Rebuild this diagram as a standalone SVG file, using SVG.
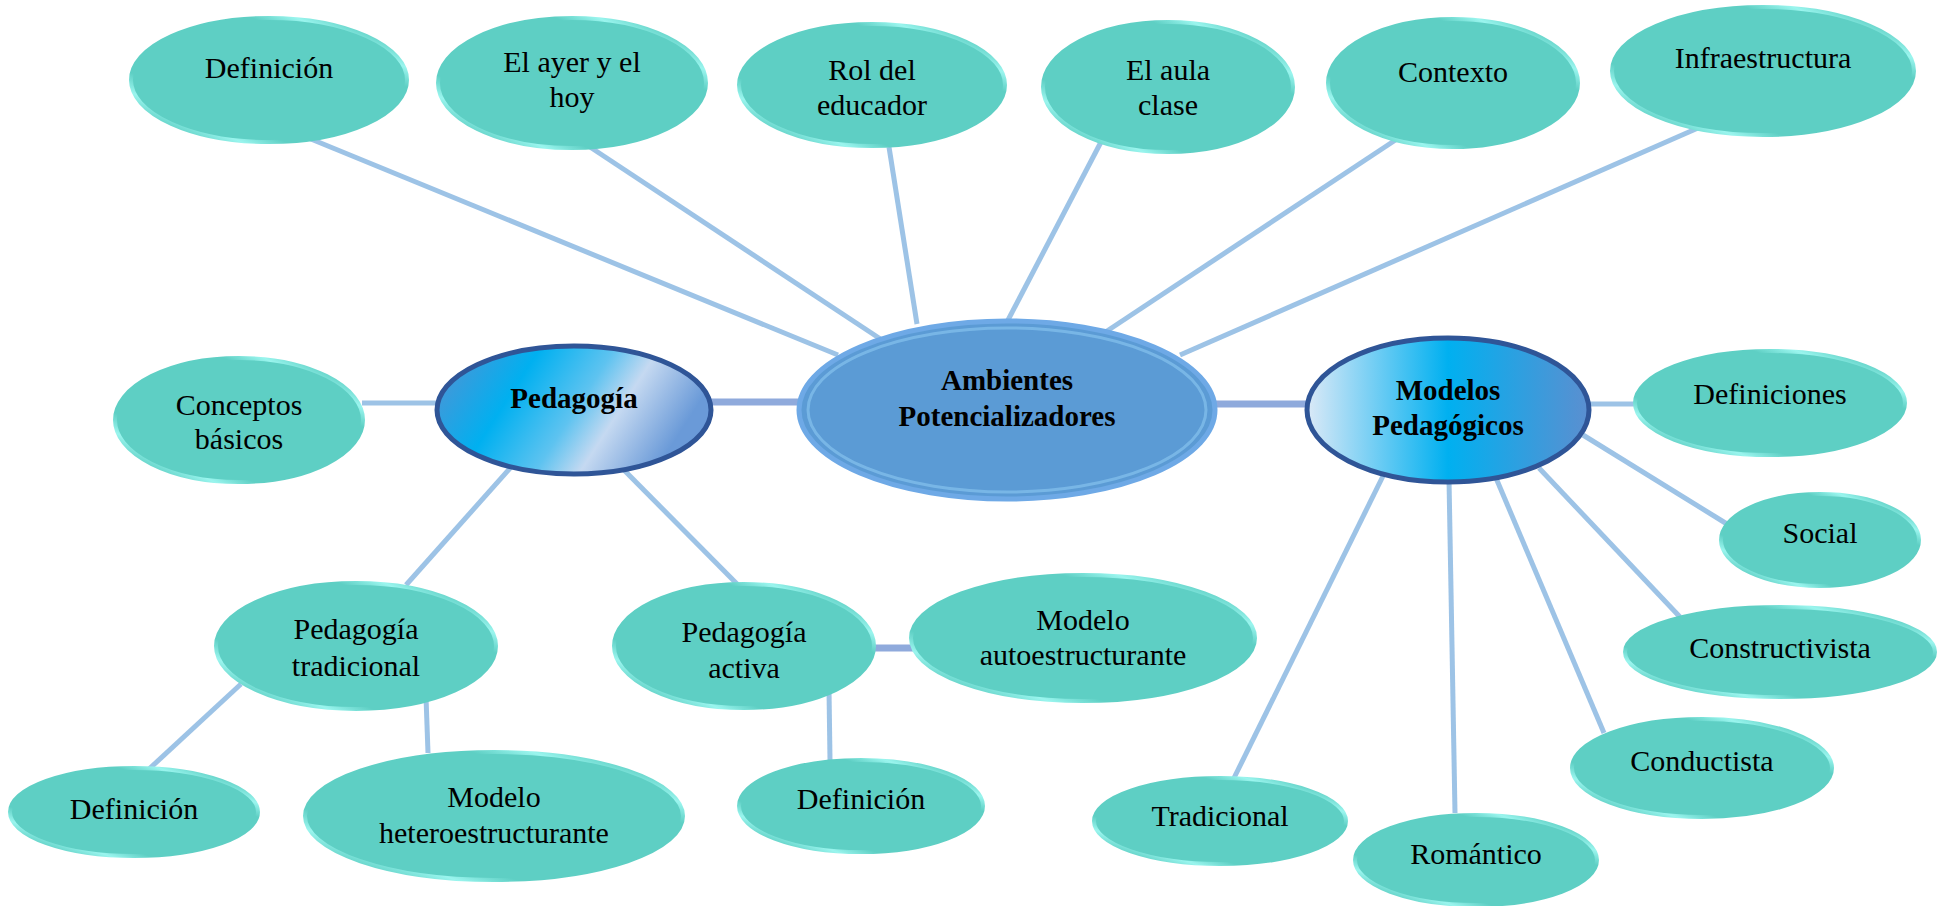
<svg xmlns="http://www.w3.org/2000/svg" width="1937" height="906" viewBox="0 0 1937 906">
<style>
.c{stroke:#9dc3e6;stroke-width:5;fill:none;stroke-linecap:butt}
.m{stroke:#8faadc;stroke-width:7;fill:none}
.leaf{fill:#5ecfc4;stroke:url(#tealEdge);stroke-width:4}
.t{font-family:"Liberation Serif","Times New Roman",serif;font-size:30px;fill:#000;text-anchor:middle}
.b{font-family:"Liberation Serif","Times New Roman",serif;font-size:29px;font-weight:bold;fill:#000;text-anchor:middle}
</style>
<defs>
<linearGradient id="tealEdge" x1="0" y1="1" x2="1" y2="0">
<stop offset="0" stop-color="#5ecfc4"/>
<stop offset="0.12" stop-color="#5ecfc4"/>
<stop offset="0.2" stop-color="#9af5ee"/>
<stop offset="0.28" stop-color="#5ecfc4"/>
<stop offset="0.72" stop-color="#5ecfc4"/>
<stop offset="0.8" stop-color="#9af5ee"/>
<stop offset="0.88" stop-color="#5ecfc4"/>
<stop offset="1" stop-color="#5ecfc4"/>
</linearGradient>
<linearGradient id="pedFill" x1="0" y1="0" x2="1" y2="0.3">
<stop offset="0" stop-color="#5b8fd0"/>
<stop offset="0.35" stop-color="#00b0f0"/>
<stop offset="0.6" stop-color="#5ec3f0"/>
<stop offset="0.75" stop-color="#c5d9f1"/>
<stop offset="1" stop-color="#6a9ad8"/>
</linearGradient>
<linearGradient id="modFill" x1="0" y1="0" x2="1" y2="0">
<stop offset="0" stop-color="#dbe9f7"/>
<stop offset="0.5" stop-color="#00b0f0"/>
<stop offset="1" stop-color="#5b8fd0"/>
</linearGradient>
</defs>

<g id="connectors">
<line class="c" x1="306" y1="137" x2="838" y2="355"/>
<line class="c" x1="587" y1="145" x2="882" y2="340"/>
<line class="c" x1="889" y1="147" x2="917" y2="324"/>
<line class="c" x1="1101" y1="142" x2="1007" y2="322"/>
<line class="c" x1="1400" y1="137" x2="1104" y2="333"/>
<line class="c" x1="1698" y1="128" x2="1180" y2="355"/>
<line class="c" x1="362" y1="403" x2="438" y2="403"/>
<line class="m" x1="711" y1="402" x2="800" y2="402"/>
<line class="m" x1="1214" y1="404" x2="1307" y2="404"/>
<line class="c" x1="512" y1="466" x2="406" y2="585"/>
<line class="c" x1="621" y1="467" x2="742" y2="589"/>
<line class="c" x1="241" y1="684" x2="148" y2="770"/>
<line class="c" x1="426" y1="697" x2="428" y2="753"/>
<line class="m" x1="872" y1="648" x2="913" y2="648"/>
<line class="c" x1="829" y1="690" x2="830" y2="760"/>
<line class="c" x1="1588" y1="404" x2="1638" y2="404"/>
<line class="c" x1="1583" y1="435" x2="1727" y2="524"/>
<line class="c" x1="1539" y1="468" x2="1680" y2="617"/>
<line class="c" x1="1496" y1="478" x2="1604" y2="733"/>
<line class="c" x1="1449" y1="479" x2="1455" y2="813"/>
<line class="c" x1="1384" y1="474" x2="1234" y2="778"/>
</g>

<g id="n-definicion-top"><ellipse class="leaf" cx="269" cy="80" rx="138" ry="62"/><text class="t" x="269" y="78">Definición</text></g>
<g id="n-ayer"><ellipse class="leaf" cx="572" cy="83" rx="134" ry="65"/><text class="t" x="572" y="72">El ayer y el</text><text class="t" x="572" y="107">hoy</text></g>
<g id="n-rol"><ellipse class="leaf" cx="872" cy="85" rx="133" ry="61"/><text class="t" x="872" y="80">Rol del</text><text class="t" x="872" y="115">educador</text></g>
<g id="n-aula"><ellipse class="leaf" cx="1168" cy="87" rx="125" ry="65"/><text class="t" x="1168" y="80">El aula</text><text class="t" x="1168" y="115">clase</text></g>
<g id="n-contexto"><ellipse class="leaf" cx="1453" cy="83" rx="125" ry="64"/><text class="t" x="1453" y="82">Contexto</text></g>
<g id="n-infra"><ellipse class="leaf" cx="1763" cy="71" rx="151" ry="64"/><text class="t" x="1763" y="68">Infraestructura</text></g>

<g id="n-conceptos"><ellipse class="leaf" cx="239" cy="420" rx="124" ry="62"/><text class="t" x="239" y="415">Conceptos</text><text class="t" x="239" y="449">básicos</text></g>

<g id="n-pedagogia"><ellipse cx="574" cy="410" rx="137" ry="64" fill="url(#pedFill)" stroke="#2f5597" stroke-width="5"/><text class="b" x="574" y="408">Pedagogía</text></g>

<g id="n-ambientes"><ellipse cx="1007" cy="410" rx="208" ry="89" fill="#5b9bd5" stroke="#6ea9e6" stroke-width="5"/><ellipse cx="1007" cy="410" rx="199" ry="82" fill="none" stroke="#8cc8f2" stroke-width="3" opacity="0.6"/><text class="b" x="1007" y="390">Ambientes</text><text class="b" x="1007" y="426">Potencializadores</text></g>

<g id="n-modelos"><ellipse cx="1448" cy="410" rx="141" ry="72" fill="url(#modFill)" stroke="#2f5597" stroke-width="5"/><text class="b" x="1448" y="400">Modelos</text><text class="b" x="1448" y="435">Pedagógicos</text></g>

<g id="n-ped-trad"><ellipse class="leaf" cx="356" cy="646" rx="140" ry="63"/><text class="t" x="356" y="639">Pedagogía</text><text class="t" x="356" y="676">tradicional</text></g>
<g id="n-ped-activa"><ellipse class="leaf" cx="744" cy="646" rx="130" ry="62"/><text class="t" x="744" y="642">Pedagogía</text><text class="t" x="744" y="678">activa</text></g>
<g id="n-def-left"><ellipse class="leaf" cx="134" cy="812" rx="124" ry="44"/><text class="t" x="134" y="819">Definición</text></g>
<g id="n-hetero"><ellipse class="leaf" cx="494" cy="816" rx="189" ry="64"/><text class="t" x="494" y="807">Modelo</text><text class="t" x="494" y="843">heteroestructurante</text></g>
<g id="n-auto"><ellipse class="leaf" cx="1083" cy="638" rx="172" ry="63"/><text class="t" x="1083" y="630">Modelo</text><text class="t" x="1083" y="665">autoestructurante</text></g>
<g id="n-def-mid"><ellipse class="leaf" cx="861" cy="806" rx="122" ry="46"/><text class="t" x="861" y="809">Definición</text></g>

<g id="n-definiciones"><ellipse class="leaf" cx="1770" cy="403" rx="135" ry="52"/><text class="t" x="1770" y="404">Definiciones</text></g>
<g id="n-social"><ellipse class="leaf" cx="1820" cy="540" rx="99" ry="46"/><text class="t" x="1820" y="543">Social</text></g>
<g id="n-constructivista"><ellipse class="leaf" cx="1780" cy="652" rx="155" ry="45"/><text class="t" x="1780" y="658">Constructivista</text></g>
<g id="n-conductista"><ellipse class="leaf" cx="1702" cy="768" rx="130" ry="49"/><text class="t" x="1702" y="771">Conductista</text></g>
<g id="n-romantico"><ellipse class="leaf" cx="1476" cy="860" rx="121" ry="45"/><text class="t" x="1476" y="864">Romántico</text></g>
<g id="n-tradicional"><ellipse class="leaf" cx="1220" cy="821" rx="126" ry="43"/><text class="t" x="1220" y="826">Tradicional</text></g>
</svg>
